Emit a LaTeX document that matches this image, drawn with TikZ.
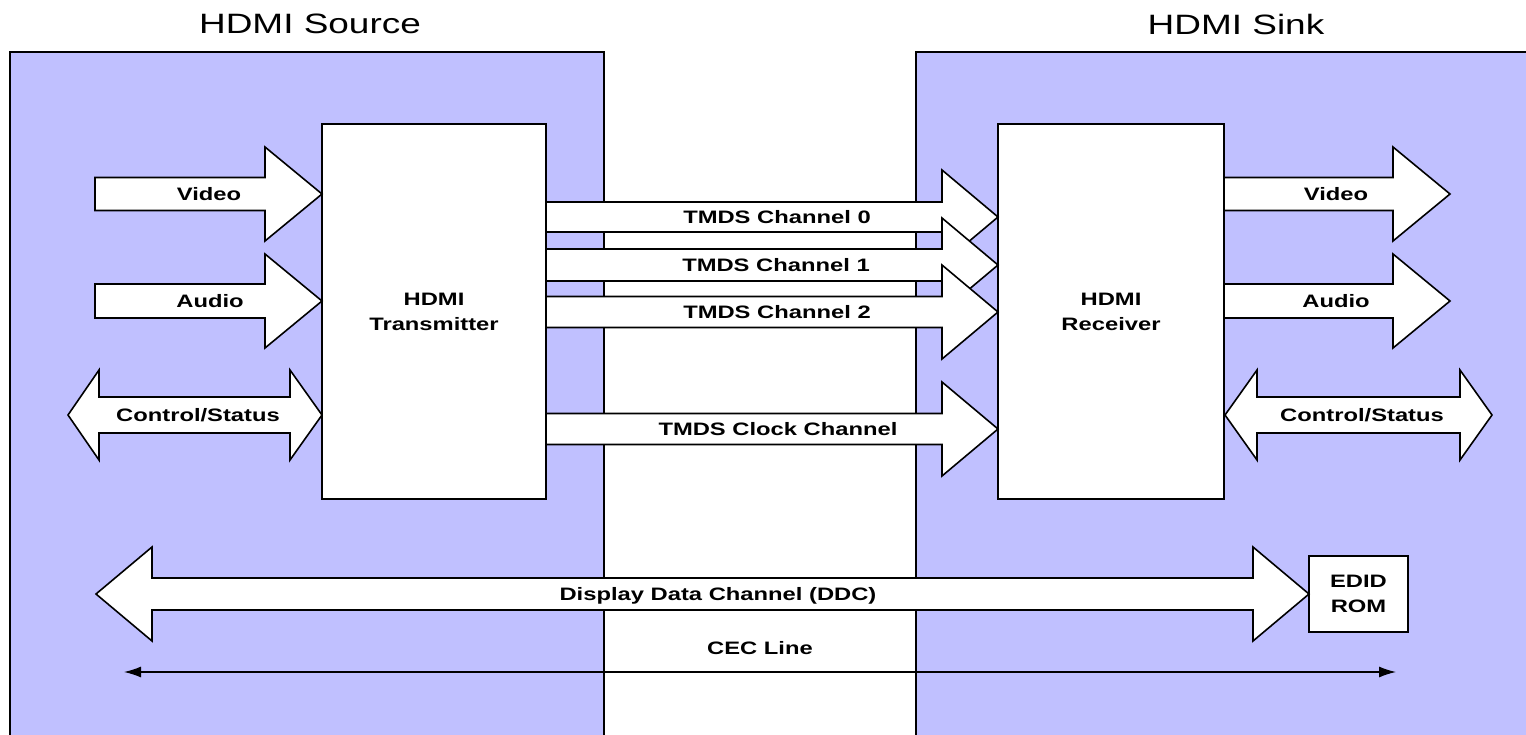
\documentclass[tikz,border=0pt]{standalone}
\usepackage{fontspec}
\setmainfont{Liberation Sans}
\usetikzlibrary{arrows.meta}
\definecolor{lav}{RGB}{192,192,255}
\newcommand{\sx}[1]{\scalebox{1.32}[1]{#1}}
% right-pointing block arrow: xstart, xheadbase, xtip, ycenter, shaft half, head half
\newcommand{\blkR}[6]{\draw[blk] (#1,#4-#5) -- (#2,#4-#5) -- (#2,#4-#6) -- (#3,#4) -- (#2,#4+#6) -- (#2,#4+#5) -- (#1,#4+#5) -- cycle;}
% double block arrow: xtipL, xbaseL, xbaseR, xtipR, ycenter, shaft half, head half
\newcommand{\blkD}[7]{\draw[blk] (#1,#5) -- (#2,#5-#7) -- (#2,#5-#6) -- (#3,#5-#6) -- (#3,#5-#7) -- (#4,#5) -- (#3,#5+#7) -- (#3,#5+#6) -- (#2,#5+#6) -- (#2,#5+#7) -- cycle;}
\begin{document}
\begin{tikzpicture}[x=1pt,y=-1pt,
  panel/.style={draw=black,fill=lav,line width=1.8pt},
  blk/.style={draw=black,fill=white,line width=1.6pt,line join=miter},
  chip/.style={draw=black,fill=white,line width=1.6pt,inner sep=0pt,align=center,
    font=\fontsize{18}{25}\selectfont\bfseries},
  lbl/.style={inner sep=0pt,text height=13pt,text depth=0pt,
    font=\fontsize{18}{25}\selectfont\bfseries},
  ttl/.style={inner sep=0pt,font=\fontsize{28}{32}\selectfont},
  cec/.style={line width=1.3pt,{Latex[length=17pt,width=11pt]}-{Latex[length=17pt,width=11pt]}}]
\path[use as bounding box] (0,0) rectangle (1526,734);
\clip (0,0) rectangle (1526,734);
\fill[white] (0,0) rectangle (1526,734);
% panels
\draw[panel] (10,52) rectangle (604,750);
\draw[panel] (916,52) rectangle (1545,750);
\node[ttl] (srcT) at (310,24) {\sx{HDMI Source}};
\node[ttl] (snkT) at (1236,24) {\sx{HDMI Sink}};
% chips
\node[chip,minimum width=224pt,minimum height=375pt] (tx) at (434,311.5) {\sx{HDMI}\\\sx{Transmitter}};
\node[chip,minimum width=226pt,minimum height=375pt] (rx) at (1111,311.5) {\sx{HDMI}\\\sx{Receiver}};
\node[chip,minimum width=99pt,minimum height=76pt] (edid) at (1358.5,594) {\sx{EDID}\\\sx{ROM}};
% source side inputs
\blkR{95}{265}{322}{194}{16.5}{47}
\blkR{95}{265}{322}{301}{17}{47}
\blkD{68}{99}{290}{322}{415}{18}{45}
% sink side outputs
\blkR{1224}{1393}{1450}{194}{16.5}{47}
\blkR{1224}{1393}{1450}{301}{17}{47}
\blkD{1225}{1257}{1460}{1492}{415}{18}{45}
% TMDS channels
\blkR{546}{942}{998}{217}{15}{47}
\blkR{546}{942}{998}{265}{16}{47}
\blkR{546}{942}{998}{312}{15.5}{47}
\blkR{546}{942}{998}{429}{15.5}{47}
% DDC
\blkD{96}{152}{1253}{1309}{594}{16}{47}
% CEC
\coordinate (cecL) at (124,672);
\coordinate (cecR) at (1396,672);
\draw[cec] (cecL) -- (cecR);
% labels
\node[lbl] (vinL) at (209,194) {\sx{Video}};
\node[lbl] (ainL) at (210,301) {\sx{Audio}};
\node[lbl] (csL) at (198,415) {\sx{Control/Status}};
\node[lbl] (voutR) at (1336,194) {\sx{Video}};
\node[lbl] (aoutR) at (1336,301) {\sx{Audio}};
\node[lbl] (csR) at (1362,415) {\sx{Control/Status}};
\node[lbl] (ch0) at (777,217) {\sx{TMDS Channel 0}};
\node[lbl] (ch1) at (776,265) {\sx{TMDS Channel 1}};
\node[lbl] (ch2) at (777,312) {\sx{TMDS Channel 2}};
\node[lbl] (clk) at (778,429) {\sx{TMDS Clock Channel}};
\node[lbl] (ddc) at (718,594) {\sx{Display Data Channel (DDC)}};
\node[lbl] (cecT) at (760,648) {\sx{CEC Line}};
\end{tikzpicture}
\end{document}
